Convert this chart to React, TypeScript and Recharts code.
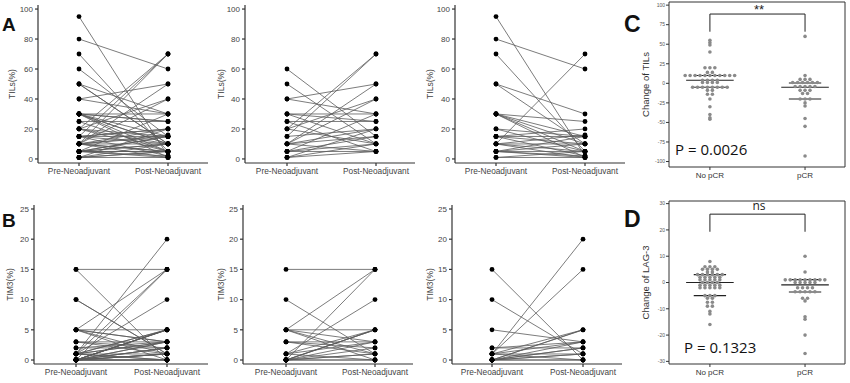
import { LineChart, Line, XAxis, YAxis, ScatterChart, Scatter, ReferenceLine } from "recharts";

const stages = ["Pre-Neoadjuvant", "Post-Neoadjuvant"];

// TILs (%) paired values, group shown in the middle panel
const tilsPreG1 = [60, 50, 40, 40, 30, 30, 30, 25, 25, 20, 20, 20, 15, 15, 10, 10, 10, 10, 5, 5, 5, 5, 1, 1, 1, 10];
const tilsPostG1 = [15, 10, 50, 30, 30, 10, 25, 25, 5, 70, 10, 40, 70, 20, 50, 20, 15, 5, 30, 15, 5, 10, 10, 5, 20, 40];
// TILs (%) paired values, group shown in the right panel
const tilsPreG2 = [95, 80, 70, 50, 50, 30, 30, 30, 30, 30, 20, 20, 15, 15, 15, 10, 10, 10, 10, 5, 5, 5, 5, 1, 1, 10, 15, 5];
const tilsPostG2 = [2, 60, 5, 30, 10, 25, 15, 5, 10, 1, 5, 15, 15, 20, 2, 70, 10, 1, 5, 5, 1, 10, 2, 1, 5, 16, 10, 15];

// TIM3 (%) paired values
const tim3PreG1 = [15, 10, 5, 5, 5, 5, 3, 3, 1, 1, 0, 0, 0, 0, 0, 0, 0, 1, 0, 3, 5, 0, 1, 0];
const tim3PostG1 = [15, 1, 15, 5, 1, 0, 3, 1, 10, 5, 15, 5, 5, 3, 2, 1, 0, 0, 5, 2, 3, 1, 3, 0];
const tim3PreG2 = [15, 10, 5, 2, 1, 1, 0, 1, 0, 0, 0, 1, 0, 1, 0, 2, 0, 1, 0, 0];
const tim3PostG2 = [0, 1, 3, 2, 20, 15, 5, 5, 3, 2, 1, 1, 0, 0, 5, 3, 2, 3, 1, 0];

const tilsTicks = [0, 20, 40, 60, 80, 100];
const tim3Ticks = [0, 5, 10, 15, 20, 25];

// change scores
const groups = ["No pCR", "pCR"];
const tilsChangeNoPcr = [55, 52, 49, 40, 20, 20, 20, 14, 14, 10, 10, 10, 10, 10, 10, 10, 10, 10, 10, 10, 4, 4, 4, 4, 1, 1, 1, 1, -5, -5, -5, -5, -5, -5, -5, -5, -9, -9, -14, -14, -20, -30, -40, -44, -46];
const tilsChangePcr = [60, 10, 5, 5, 5, 1, 1, 1, 1, 1, 1, -4, -4, -4, -4, -4, -9, -9, -9, -13, -13, -20, -20, -20, -25, -29, -45, -55, -93];
const lagChangeNoPcr = [8, 6, 6, 6, 5, 5, 5, 5, 4, 4, 3, 3, 3, 3, 3, 3, 2, 2, 2, 2, 2, 1, 1, 1, 1, 1, 0, 0, 0, 0, -1, -1, -1, -1, -1, -2, -2, -2, -2, -2, -5, -5, -5, -6, -6, -7.5, -7.5, -9, -9, -11, -12, -16];
const lagChangePcr = [10, 4, 1, 1, 1, 1, 1, 1, 1, 1, 1, 0, 0, 0, 0, 0, -2, -2, -2, -2, -3.5, -3.5, -3.5, -3.5, -3.5, -6, -6, -7, -13, -14, -20, -27];
// [upper quartile, median, lower quartile]
const tilsLinesNoPcr = [10, 4, -5];
const tilsLinesPcr = [0.5, -5, -20];
const lagLinesNoPcr = [3, 0, -5];
const lagLinesPcr = [1.1, -0.9, -3.6];
const tilsBracket = [66, 88.6];
const lagBracket = [19.3, 26];
const tilsChangeTicks = [-100, -75, -50, -25, 0, 25, 50, 75, 100];
const lagChangeTicks = [-30, -20, -10, 0, 10, 20, 30];

const FONT = "'Liberation Sans', Arial, sans-serif";
const AX = "#333";

function pairRows(pre: number[], post: number[]) {
  const a: Record<string, any> = { stage: stages[0] };
  const b: Record<string, any> = { stage: stages[1] };
  pre.forEach((v, i) => {
    a["p" + i] = v;
    b["p" + i] = post[i];
  });
  return [a, b];
}

function PairedPanel(props: any) {
  const { left, top, width, height, pre, post, domain, ticks, yLabel, axisW, labelOff, padL, padR, mTop, xH, mBottom } = props;
  const rows = pairRows(pre, post);
  return (
    <div style={{ position: "absolute", left, top }}>
      <LineChart width={width} height={height} data={rows} margin={{ top: mTop, right: 2, bottom: mBottom, left: 0 }}>
        <XAxis
          dataKey="stage"
          padding={{ left: padL, right: padR }}
          height={xH}
          tickSize={3}
          tickMargin={2}
          tick={{ fontSize: 8.3, fill: "#444", fontFamily: FONT }}
          stroke={AX}
          strokeWidth={1.2}
          interval={0}
        />
        <YAxis
          type="number"
          domain={domain}
          ticks={ticks}
          width={axisW}
          tickSize={3}
          tickMargin={2}
          tick={{ fontSize: 8, fill: "#444", fontFamily: FONT }}
          stroke={AX}
          strokeWidth={1.2}
          allowDataOverflow
          label={{ value: yLabel, angle: -90, position: "insideLeft", offset: labelOff, style: { textAnchor: "middle", fontSize: 8.5, fill: "#444", fontFamily: FONT } }}
        />
        {pre.map((_: number, i: number) => (
          <Line
            key={i}
            dataKey={"p" + i}
            type="linear"
            stroke="#5a5a5a"
            strokeWidth={0.8}
            dot={{ r: 2.4, fill: "#000", stroke: "none" }}
            activeDot={false}
            isAnimationActive={false}
          />
        ))}
      </LineChart>
    </div>
  );
}

function swarm(values: number[], center: number, step: number) {
  const counts: Record<string, number> = {};
  values.forEach((v) => (counts[v] = (counts[v] || 0) + 1));
  const seen: Record<string, number> = {};
  return values.map((v) => {
    const n = counts[v];
    const i = (seen[v] = (seen[v] ?? -1) + 1);
    return { x: center + (i - (n - 1) / 2) * step, y: v };
  });
}

const dotShape = (p: any) => <circle cx={p.cx} cy={p.cy} r={1.8} fill="#8a8a8a" />;

function DotPanel(props: any) {
  const { left, top, width, height, a, b, linesA, linesB, bracket, domain, ticks, yLabel, mTop, xH, mBottom } = props;
  const pts = [...swarm(a, 1, 0.052), ...swarm(b, 2, 0.052)];
  const seg = (cx: number, y: number, hw: number, k: string) => (
    <ReferenceLine key={k} segment={[{ x: cx - hw, y }, { x: cx + hw, y }]} stroke="#222" strokeWidth={1.1} />
  );
  return (
    <div style={{ position: "absolute", left, top }}>
      <ScatterChart width={width} height={height} margin={{ top: mTop, right: 4, bottom: mBottom, left: 0 }}>
        <XAxis
          type="number"
          dataKey="x"
          domain={[0.57, 2.42]}
          ticks={[1, 2]}
          tickFormatter={(v: number) => groups[v - 1]}
          height={xH}
          tickSize={3}
          tickMargin={2}
          tick={{ fontSize: 8, fill: "#333", fontFamily: FONT }}
          stroke={AX}
          allowDataOverflow
        />
        <XAxis xAxisId="top" type="number" orientation="top" domain={[0.57, 2.42]} height={1} tick={false} tickLine={false} stroke={AX} />
        <YAxis
          type="number"
          dataKey="y"
          domain={domain}
          ticks={ticks}
          width={59}
          tickSize={3}
          tickMargin={1}
          tick={{ fontSize: 5, fill: "#555", fontFamily: FONT }}
          stroke={AX}
          allowDataOverflow
          label={{ value: yLabel, angle: -90, position: "insideLeft", offset: 36, style: { textAnchor: "middle", fontSize: 9.5, fill: "#333", fontFamily: FONT } }}
        />
        <YAxis yAxisId="right" orientation="right" width={1} domain={domain} tick={false} tickLine={false} stroke={AX} />
        <Scatter data={pts} shape={dotShape} isAnimationActive={false} legendType="none" />
        {seg(1, linesA[0], 0.17, "a0")}
        {seg(1, linesA[1], 0.25, "a1")}
        {seg(1, linesA[2], 0.17, "a2")}
        {seg(2, linesB[0], 0.17, "b0")}
        {seg(2, linesB[1], 0.25, "b1")}
        {seg(2, linesB[2], 0.17, "b2")}
        <ReferenceLine segment={[{ x: 1, y: bracket[0] }, { x: 1, y: bracket[1] }]} stroke="#222" strokeWidth={1} />
        <ReferenceLine segment={[{ x: 1, y: bracket[1] }, { x: 2, y: bracket[1] }]} stroke="#222" strokeWidth={1} />
        <ReferenceLine segment={[{ x: 2, y: bracket[0] }, { x: 2, y: bracket[1] }]} stroke="#222" strokeWidth={1} />
      </ScatterChart>
    </div>
  );
}

export default function App() {
  return (
    <div style={{ position: "absolute", left: 0, top: 0, width: 850, height: 383, background: "#fff", overflow: "hidden" }}>
      <PairedPanel left={0} top={0} width={210} height={190} pre={[...tilsPreG1, ...tilsPreG2]} post={[...tilsPostG1, ...tilsPostG2]}
        domain={[-2.7, 102.7]} ticks={tilsTicks} yLabel="TILs(%)" axisW={38} labelOff={12} padL={41} padR={40} mTop={5} xH={22} mBottom={5} />
      <PairedPanel left={207} top={0} width={210} height={190} pre={tilsPreG1} post={tilsPostG1}
        domain={[-2.7, 102.7]} ticks={tilsTicks} yLabel="TILs(%)" axisW={38} labelOff={14} padL={42} padR={39} mTop={5} xH={22} mBottom={5} />
      <PairedPanel left={417} top={0} width={210} height={190} pre={tilsPreG2} post={tilsPostG2}
        domain={[-2.7, 102.7]} ticks={tilsTicks} yLabel="TILs(%)" axisW={38} labelOff={13} padL={41} padR={40} mTop={5} xH={22} mBottom={5} />

      <PairedPanel left={0} top={190} width={210} height={193} pre={[...tim3PreG1, ...tim3PreG2]} post={[...tim3PostG1, ...tim3PostG2]}
        domain={[-0.66, 25.66]} ticks={tim3Ticks} yLabel="TIM3(%)" axisW={34} labelOff={10} padL={42} padR={41} mTop={15} xH={16} mBottom={3} />
      <PairedPanel left={205} top={190} width={210} height={193} pre={tim3PreG1} post={tim3PostG1}
        domain={[-0.66, 25.66]} ticks={tim3Ticks} yLabel="TIM3(%)" axisW={38} labelOff={16} padL={43} padR={38} mTop={15} xH={16} mBottom={3} />
      <PairedPanel left={414} top={190} width={210} height={193} pre={tim3PreG2} post={tim3PostG2}
        domain={[-0.66, 25.66]} ticks={tim3Ticks} yLabel="TIM3(%)" axisW={38} labelOff={16} padL={40} padR={39} mTop={15} xH={16} mBottom={3} />

      <DotPanel left={610} top={0} width={240} height={190} a={tilsChangeNoPcr} b={tilsChangePcr} linesA={tilsLinesNoPcr} linesB={tilsLinesPcr}
        bracket={tilsBracket} domain={[-107, 104]} ticks={tilsChangeTicks} yLabel="Change of TILs" mTop={1} xH={20} mBottom={3} />
      <DotPanel left={610} top={190} width={240} height={193} a={lagChangeNoPcr} b={lagChangePcr} linesA={lagLinesNoPcr} linesB={lagLinesPcr}
        bracket={lagBracket} domain={[-31, 31]} ticks={lagChangeTicks} yLabel="Change of LAG-3" mTop={10} xH={16} mBottom={3} />

      <svg width={850} height={383} style={{ position: "absolute", left: 0, top: 0, pointerEvents: "none" }}>
        <text x={2} y={31} fontSize={19} fontWeight="bold" fontFamily={FONT} fill="#111">A</text>
        <text x={2} y={227} fontSize={19} fontWeight="bold" fontFamily={FONT} fill="#111">B</text>
        <text x={624} y={32} fontSize={23} fontWeight="bold" fontFamily={FONT} fill="#111">C</text>
        <text x={624} y={227} fontSize={23} fontWeight="bold" fontFamily={FONT} fill="#111">D</text>
        <text x={675} y={155} fontSize={15} fontFamily="'Open Sans', sans-serif" fill="#111">P = 0.0026</text>
        <text x={684} y={353} fontSize={15} fontFamily="'Open Sans', sans-serif" fill="#111">P = 0.1323</text>
        <text x={759} y={14} fontSize={13} textAnchor="middle" fontFamily={FONT} fill="#222">**</text>
        <text x={759} y={210} fontSize={12} textAnchor="middle" fontFamily="'Open Sans', sans-serif" fill="#222">ns</text>
      </svg>
    </div>
  );
}
